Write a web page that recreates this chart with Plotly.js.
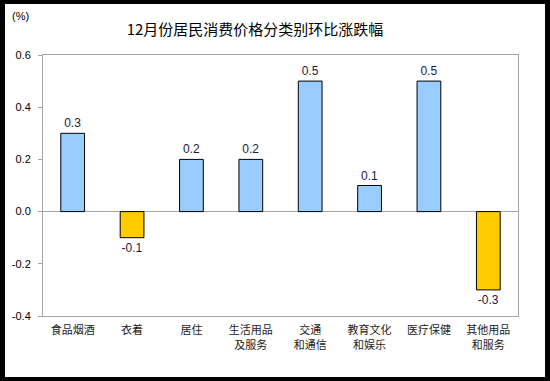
<!DOCTYPE html>
<html>
<head>
<meta charset="utf-8">
<script src="https://cdn.plot.ly/plotly-3.0.1.min.js"></script>
<style>
html,body{margin:0;padding:0;background:#000;width:550px;height:381px;overflow:hidden;}
#chart{position:absolute;left:5px;top:4px;width:540px;height:373px;background:#fff;}
</style>
</head>
<body>
<div id="chart"></div>
<script>
const categories = ["食品烟酒","衣着","居住","生活用品<br>及服务","交通<br>和通信","教育文化<br>和娱乐","医疗保健","其他用品<br>和服务"];
const values = [0.3, -0.1, 0.2, 0.2, 0.5, 0.1, 0.5, -0.3];
const valueLabels = ["0.3","-0.1","0.2","0.2","0.5","0.1","0.5","-0.3"];
const yTicks = [-0.4, -0.2, 0.0, 0.2, 0.4, 0.6];
const yTickText = ["-0.4","-0.2","0.0","0.2","0.4","0.6"];

const colors = values.map(v => v >= 0 ? "#99ccff" : "#ffcc00");

const trace = {
  type: "bar",
  x: categories,
  y: values,
  width: 0.4,
  marker: {color: colors, line: {color: "#000", width: 1}},
  text: valueLabels,
  texttemplate: "%{text}",
  textposition: "outside",
  textfont: {family: "Liberation Sans, Arial, sans-serif", size: 12, color: "#1a1a3a"},
  cliponaxis: false,
  hoverinfo: "none"
};

const layout = {
  width: 540, height: 373,
  margin: {l: 38, r: 27, t: 51, b: 61},
  paper_bgcolor: "#fff",
  plot_bgcolor: "#fff",
  showlegend: false,
  title: {
    text: "12月份居民消费价格分类别环比涨跌幅",
    font: {family: "Noto Sans CJK SC, sans-serif", size: 15, color: "#000"},
    x: 0.463, xanchor: "center", y: 0.93, yanchor: "middle"
  },
  xaxis: {
    type: "category",
    showline: true, mirror: true, linecolor: "#a6a6a6", linewidth: 1,
    ticks: "", showgrid: false,
    tickfont: {family: "Noto Sans CJK SC, sans-serif", size: 11, color: "#222"},
    ticklabelstandoff: 4
  },
  yaxis: {
    range: [-0.4, 0.6],
    tickvals: yTicks, ticktext: yTickText,
    showline: true, mirror: true, linecolor: "#a6a6a6", linewidth: 1,
    ticks: "outside", ticklen: 4, tickcolor: "#a6a6a6",
    showgrid: false,
    zeroline: true, zerolinecolor: "#a6a6a6", zerolinewidth: 1,
    tickfont: {family: "Liberation Sans, Arial, sans-serif", size: 11, color: "#000"},
    ticklabelstandoff: 5
  },
  annotations: [{
    text: "(%)", xref: "paper", yref: "paper",
    x: -0.07, y: 1.15, xanchor: "left", yanchor: "middle",
    showarrow: false,
    font: {family: "Liberation Sans, Arial, sans-serif", size: 11, color: "#000"}
  }]
};

Plotly.newPlot("chart", [trace], layout, {staticPlot: true, displayModeBar: false});
</script>
</body>
</html>
